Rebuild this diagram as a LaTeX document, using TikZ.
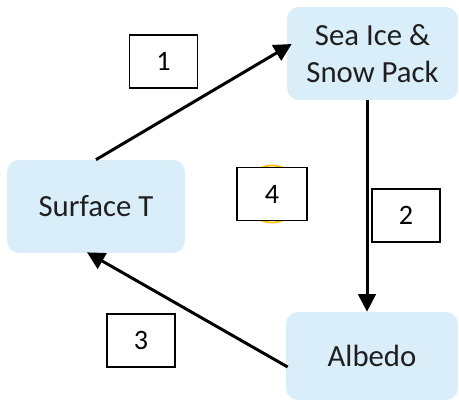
\documentclass[tikz,border=0pt]{standalone}
\usepackage{fontspec}
\setmainfont{Carlito}
\usetikzlibrary{arrows.meta}
\definecolor{icefill}{RGB}{218,238,250}
\definecolor{ylw}{RGB}{255,192,0}
\tikzset{
	box/.style={fill=icefill,rounded corners=0.24cm,align=center,text=black!88,font=\fontsize{17.5}{21}\selectfont},
	num/.style={draw,fill=white,line width=0.6pt,minimum width=1.36cm,minimum height=1.06cm,font=\fontsize{16}{19}\selectfont},
	arr/.style={line width=1.7pt,-{Triangle[length=10pt,width=10pt]}}
}
\begin{document}
\begin{tikzpicture}[x=0.02cm,y=-0.02cm]
		\useasboundingbox (0,0) rectangle (459,402);
		\node[box,minimum width=3.42cm,minimum height=1.86cm] (ice) at (372.5,53.5) {Sea Ice \&\\Snow Pack};
		\node[box,minimum width=3.56cm,minimum height=1.86cm] (surf) at (96,206.5) {Surface T};
		\node[box,minimum width=3.44cm,minimum height=1.76cm] (albedo) at (372,356) {Albedo};
		\draw[arr] (surf.north) -- ([shift={(5,-9.5)}]ice.west);
		\draw[arr] ([shift={(-5.5,0)}]ice.south) -- ([shift={(-5,0)}]albedo.north);
		\draw[arr] ([shift={(2,11)}]albedo.west) -- ([shift={(-9,-1)}]surf.south);
		\draw[ylw,line width=1pt] (272,194) circle (28.5);
		\node[num] (n1) at (163.5,61.5) {1};
		\node[num] (n2) at (406,215.5) {2};
		\node[num] (n3) at (141,340.5) {3};
		\node[num,minimum width=1.4cm] (n4) at (272,194) {4};
		\end{tikzpicture}
\end{document}
